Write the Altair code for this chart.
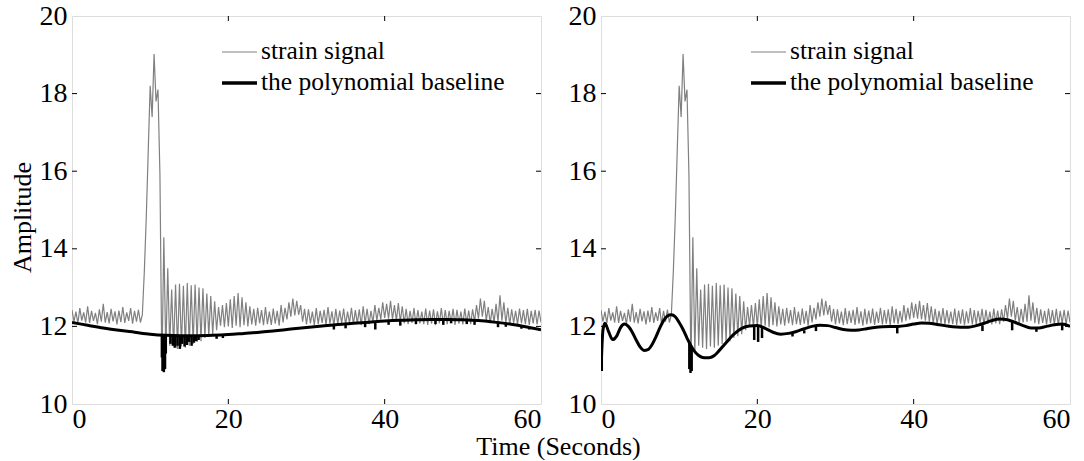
import altair as alt
import pandas as pd

# ---------------- data ----------------
SAMPLE_DT = 0.25  # seconds between strain samples
strain_signal = [
    12.42, 12.12, 12.38, 12.08, 12.47, 12.15, 12.36, 12.10,
    12.52, 12.09, 12.40, 12.14, 12.35, 12.06, 12.44, 12.12,
    12.58, 12.10, 12.37, 12.08, 12.45, 12.13, 12.39, 12.05,
    12.41, 12.11, 12.50, 12.09, 12.36, 12.14, 12.47, 12.07,
    12.40, 12.12, 12.43, 12.10, 12.30, 13.40, 14.80, 16.50,
    18.20, 17.40, 19.02, 17.80, 18.10, 15.90, 10.85, 14.30,
    11.30, 13.50, 11.50, 12.95, 11.45, 13.08, 11.42, 13.10,
    11.48, 13.05, 11.45, 13.12, 11.50, 13.06, 11.55, 13.08,
    11.60, 13.00, 11.62, 12.98, 11.70, 12.85, 11.75, 12.78,
    11.80, 12.65, 11.90, 12.50, 12.02, 12.55, 11.98, 12.60,
    12.00, 12.70, 11.96, 12.78, 12.02, 12.86, 11.98, 12.75,
    12.03, 12.62, 12.00, 12.52, 12.05, 12.45, 12.02, 12.48,
    12.08, 12.42, 12.03, 12.50, 12.06, 12.38, 12.04, 12.46,
    12.07, 12.40, 12.02, 12.55, 12.10, 12.48, 12.18, 12.62,
    12.25, 12.72, 12.28, 12.66, 12.30, 12.55, 12.12, 12.45,
    12.05, 12.44, 12.08, 12.38, 12.03, 12.47, 12.06, 12.40,
    12.09, 12.43, 12.04, 12.50, 12.07, 12.39, 12.02, 12.45,
    12.06, 12.41, 12.08, 12.46, 12.04, 12.38, 12.09, 12.48,
    12.05, 12.42, 12.07, 12.44, 12.03, 12.52, 12.08, 12.45,
    12.06, 12.40, 12.10, 12.55, 12.15, 12.48, 12.18, 12.62,
    12.22, 12.58, 12.20, 12.66, 12.18, 12.55, 12.15, 12.60,
    12.12, 12.52, 12.08, 12.45, 12.06, 12.40, 12.09, 12.47,
    12.05, 12.42, 12.08, 12.38, 12.06, 12.46, 12.04, 12.41,
    12.07, 12.44, 12.03, 12.39, 12.08, 12.47, 12.05, 12.42,
    12.06, 12.40, 12.09, 12.45, 12.04, 12.43, 12.07, 12.38,
    12.05, 12.46, 12.08, 12.41, 12.06, 12.44, 12.12, 12.55,
    12.20, 12.72, 12.25, 12.66, 12.15, 12.50, 12.08, 12.45,
    12.10, 12.58, 12.12, 12.80, 12.15, 12.62, 12.08, 12.48,
    12.06, 12.44, 12.09, 12.40, 12.05, 12.46, 12.08, 12.42,
    12.06, 12.45, 12.04, 12.40, 12.08, 12.43, 12.05, 12.41,
    12.10,
]
signal_time = [i * SAMPLE_DT for i in range(len(strain_signal))]

# left panel: low-order polynomial baseline
left_base_time = [0, 2, 4, 6, 8, 10, 12, 14, 16, 18, 20, 22, 24, 26, 28, 30,
                  32, 34, 36, 38, 40, 42, 44, 46, 48, 50, 52, 54, 56, 58, 60]
left_base_val = [12.10, 12.03, 11.96, 11.90, 11.85, 11.80, 11.77, 11.76, 11.76,
                 11.77, 11.79, 11.82, 11.85, 11.89, 11.93, 11.97, 12.01, 12.05,
                 12.08, 12.11, 12.14, 12.16, 12.17, 12.18, 12.18, 12.17, 12.15,
                 12.11, 12.06, 11.99, 11.91]

# right panel: high-order polynomial baseline
right_base_time = [0, 0.25, 0.5, 1.0, 1.5, 2.0, 2.5, 3.0, 3.5, 4.0, 4.5, 5.0, 5.5,
                   6.0, 6.5, 7.0, 7.5, 8.0, 8.5, 9.0, 9.5, 10.0, 10.5, 11.0, 11.5,
                   12.0, 12.5, 13.0, 13.5, 14.0, 14.5, 15.0, 16, 17, 18, 19, 20,
                   21, 22, 23, 24, 25, 26, 27, 28, 29, 30, 31, 32, 33, 34, 35, 36,
                   37, 38, 39, 40, 41, 42, 43, 44, 45, 46, 47, 48, 49, 50, 51, 52,
                   53, 54, 55, 56, 57, 58, 59, 60]
right_base_val = [10.88, 11.90, 12.08, 11.85, 11.66, 11.75, 11.97, 12.06, 12.00,
                  11.85, 11.65, 11.47, 11.38, 11.40, 11.52, 11.72, 11.95, 12.15,
                  12.27, 12.30, 12.25, 12.10, 11.92, 11.70, 11.50, 11.35, 11.25,
                  11.20, 11.19, 11.20, 11.25, 11.35, 11.58, 11.80, 11.95, 12.01,
                  12.02, 11.95, 11.85, 11.80, 11.82, 11.87, 11.94, 12.00, 12.03,
                  12.02, 11.97, 11.92, 11.90, 11.91, 11.94, 11.97, 11.99, 12.00,
                  12.00, 12.02, 12.06, 12.09, 12.08, 12.05, 12.02, 11.99, 11.98,
                  11.98, 12.02, 12.08, 12.15, 12.19, 12.17, 12.10, 12.02, 11.96,
                  11.96, 12.00, 12.04, 12.06, 12.00]

# black downward excursions of the signal below the baseline
left_dip_time = [11.5, 11.6, 11.75, 11.9, 12.0, 12.6, 12.9, 13.2, 13.5, 13.8,
                 14.1, 14.4, 14.7, 15.0, 15.3, 15.6, 15.9, 16.2, 18.5, 19.3,
                 33.5, 35.0, 37.5, 38.8, 40.5, 42.0, 44.0, 46.5, 47.5, 48.5,
                 50.5, 51.5, 54.5, 55.5, 57.5, 58.5]
left_dip_top = [11.78, 11.78, 11.78, 11.78, 11.77, 11.77, 11.77, 11.76, 11.76,
                11.76, 11.76, 11.76, 11.76, 11.76, 11.76, 11.76, 11.76, 11.76,
                11.77, 11.78, 12.03, 12.06, 12.10, 12.11, 12.14, 12.16, 12.17,
                12.18, 12.18, 12.18, 12.17, 12.16, 12.12, 12.09, 12.03, 11.99]
left_dip_low = [11.20, 10.85, 10.82, 10.90, 11.30, 11.55, 11.50, 11.45, 11.50,
                11.42, 11.55, 11.48, 11.52, 11.60, 11.50, 11.58, 11.62, 11.65,
                11.68, 11.70, 11.92, 11.95, 11.98, 11.92, 12.04, 12.02, 12.06,
                12.06, 12.04, 12.08, 12.06, 12.04, 11.98, 11.99, 11.94, 11.92]

right_dip_time = [0.1, 11.3, 11.45, 11.6, 19.6, 20.1, 20.6, 24.5, 26.0, 27.5,
                  37.9, 48.8, 52.6, 55.7, 59.0]
right_dip_top = [11.50, 11.60, 11.55, 11.50, 12.01, 12.02, 11.98, 11.84, 11.90,
                 12.01, 12.00, 12.03, 12.15, 11.96, 12.06]
right_dip_low = [10.85, 10.90, 10.80, 10.85, 11.65, 11.60, 11.70, 11.74, 11.82,
                 11.88, 11.82, 11.88, 11.90, 11.86, 11.90]

x_ticks = [0, 20, 40, 60]
y_ticks = [10, 12, 14, 16, 18, 20]
inner_x_ticks = [20, 40]
inner_y_ticks = [12, 14, 16, 18]
legend_labels = ["strain signal", "the polynomial baseline"]

# ---------------- chart ----------------
FONT = "Liberation Serif, Times New Roman, serif"
W, H = 469, 388
GRAY = "#808080"
TICK_FS = 28
TITLE_FS = 26
LEG_FS = 25.5

signal_df = pd.DataFrame({"t": signal_time, "v": strain_signal})
xt_df = pd.DataFrame({"t": inner_x_ticks})
yt_df = pd.DataFrame({"v": inner_y_ticks})
leg1_df = pd.DataFrame({"label": [legend_labels[0]]})
leg2_df = pd.DataFrame({"label": [legend_labels[1]]})

xscale = alt.Scale(domain=[0, 60], nice=False)
yscale = alt.Scale(domain=[10, 20], nice=False)


def panel(base_t, base_v, dip_t, dip_top, dip_low, left):
    common = dict(ticks=False, domain=False, grid=False, labelFont=FONT,
                  labelFontSize=TICK_FS, labelColor="black")
    if left:
        xaxis = alt.Axis(values=x_ticks, labelPadding=1, title="Time (Seconds)",
                         titleFont=FONT, titleFontSize=TITLE_FS,
                         titleFontWeight="normal", titleColor="black",
                         titleX=486, titleY=50, titleBaseline="alphabetic",
                         titleAlign="center", **common)
        yaxis = alt.Axis(values=y_ticks, labelPadding=5, title="Amplitude",
                         titleFont=FONT, titleFontSize=TITLE_FS,
                         titleFontWeight="normal", titleColor="black",
                         titleX=-50, titleY=201, titleAngle=270,
                         titleBaseline="middle", titleAlign="center", **common)
    else:
        xaxis = alt.Axis(values=x_ticks, labelPadding=1, title=None, **common)
        yaxis = alt.Axis(values=y_ticks, labelPadding=5, title=None, **common)

    x = alt.X("t:Q", scale=xscale, axis=xaxis)
    y = alt.Y("v:Q", scale=yscale, axis=yaxis)

    sig = alt.Chart(signal_df).mark_line(color=GRAY, strokeWidth=1.2, clip=True).encode(x=x, y=y)
    dips = alt.Chart(pd.DataFrame({"t": dip_t, "top": dip_top, "low": dip_low})).mark_rule(
        color="black", strokeWidth=2.5, clip=True
    ).encode(x="t:Q", y="top:Q", y2="low:Q")
    base = alt.Chart(pd.DataFrame({"t": base_t, "v": base_v})).mark_line(
        color="black", strokeWidth=3, interpolate="monotone", clip=True
    ).encode(x="t:Q", y="v:Q")

    tick_top = alt.Chart(xt_df).mark_rule(color="black", strokeWidth=1).encode(
        x="t:Q", y=alt.value(0), y2=alt.value(5))
    tick_bot = alt.Chart(xt_df).mark_rule(color="black", strokeWidth=1).encode(
        x="t:Q", y=alt.value(H), y2=alt.value(H - 5))
    tick_l = alt.Chart(yt_df).mark_rule(color="black", strokeWidth=1).encode(
        y="v:Q", x=alt.value(0), x2=alt.value(5))
    tick_r = alt.Chart(yt_df).mark_rule(color="black", strokeWidth=1).encode(
        y="v:Q", x=alt.value(W), x2=alt.value(W - 5))

    leg_l1 = alt.Chart(leg1_df).mark_rule(color=GRAY, strokeWidth=1).encode(
        x=alt.value(150), x2=alt.value(185), y=alt.value(36))
    leg_l2 = alt.Chart(leg2_df).mark_rule(color="black", strokeWidth=3.5).encode(
        x=alt.value(150), x2=alt.value(185), y=alt.value(67))
    leg_t1 = alt.Chart(leg1_df).mark_text(
        font=FONT, fontSize=LEG_FS, align="left", baseline="middle", color="black"
    ).encode(x=alt.value(189), y=alt.value(35), text="label:N")
    leg_t2 = alt.Chart(leg2_df).mark_text(
        font=FONT, fontSize=LEG_FS, align="left", baseline="middle", color="black"
    ).encode(x=alt.value(189), y=alt.value(66), text="label:N")

    return alt.layer(sig, dips, base, tick_top, tick_bot, tick_l, tick_r,
                     leg_l1, leg_l2, leg_t1, leg_t2).properties(width=W, height=H)


left_panel = panel(left_base_time, left_base_val, left_dip_time, left_dip_top,
                   left_dip_low, True)
right_panel = panel(right_base_time, right_base_val, right_dip_time,
                    right_dip_top, right_dip_low, False)

chart = alt.hconcat(left_panel, right_panel, spacing=60, bounds="flush").properties(
    padding={"left": 8, "top": 1, "right": 0, "bottom": 0}
).configure_view(stroke="black", strokeWidth=1.2).configure(background="white")

chart.save("out.html", embed_options={"renderer": "svg", "actions": False})
